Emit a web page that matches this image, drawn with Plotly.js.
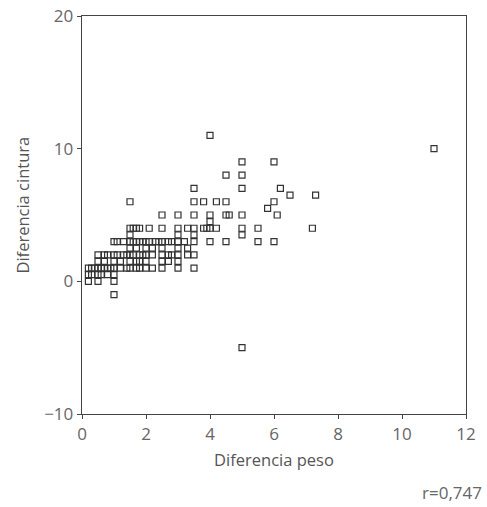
<!DOCTYPE html>
<html>
<head>
<meta charset="utf-8">
<script src="https://cdn.plot.ly/plotly-3.0.1.min.js"></script>
<style>html,body{margin:0;padding:0;background:#fff;}#chart{width:487px;height:507px;}</style>
</head>
<body>
<div id="chart"></div>
<script>
// Diferencia peso (x) and Diferencia cintura (y), grouped by y-row
const rowY0   = [0.2, 0.5, 1.0];
const rowYm1  = [1.0];
const rowY05  = [0.2, 0.3, 0.5, 0.6, 0.8, 1.0];
const rowY1   = [0.2, 0.3, 0.4, 0.5, 0.6, 0.7, 0.8, 0.9, 1.0, 1.2, 1.4, 1.5, 1.7, 1.8, 2.0, 2.2, 2.5, 3.0, 3.5];
const rowY15  = [0.5, 0.7, 1.0, 1.2, 1.5, 1.7, 1.8, 2.0, 2.5, 2.7, 3.0];
const rowY2   = [0.5, 0.7, 0.8, 1.0, 1.1, 1.3, 1.4, 1.5, 1.6, 1.8, 1.9, 2.0, 2.2, 2.5, 2.7, 2.8, 3.0, 3.3, 3.5];
const rowY25  = [1.5, 1.7, 2.0, 2.2, 2.5, 3.0, 3.3];
const rowY3   = [1.0, 1.1, 1.3, 1.5, 1.6, 1.7, 1.8, 1.9, 2.0, 2.1, 2.3, 2.4, 2.5, 2.7, 2.8, 3.0, 3.2, 3.5, 4.0, 4.5, 5.5, 6.0];
const rowY35  = [1.5, 3.0, 3.5, 5.0];
const rowY4   = [1.5, 1.6, 1.7, 1.8, 2.1, 2.5, 3.0, 3.3, 3.5, 3.8, 3.9, 4.0, 4.2, 5.0, 5.5, 7.2];
const rowY45  = [4.0];
const rowY5   = [2.5, 3.0, 3.5, 4.0, 4.5, 4.6, 5.0, 6.1];
const rowY55  = [5.8];
const rowY6   = [1.5, 3.5, 3.8, 4.2, 4.5, 6.0];
const rowY65  = [6.5, 7.3];
const rowY7   = [3.5, 5.0, 6.2];
const rowY8   = [4.5, 5.0];
const rowY9   = [5.0, 6.0];
const rowY10  = [11.0];
const rowY11  = [4.0];
const rowYm5  = [5.0];

const rows = [
  [0, rowY0], [-1, rowYm1], [0.5, rowY05], [1, rowY1], [1.5, rowY15], [2, rowY2],
  [2.5, rowY25], [3, rowY3], [3.5, rowY35], [4, rowY4], [4.5, rowY45], [5, rowY5],
  [5.5, rowY55], [6, rowY6], [6.5, rowY65], [7, rowY7], [8, rowY8], [9, rowY9],
  [10, rowY10], [11, rowY11], [-5, rowYm5]
];
const xs = [], ys = [];
rows.forEach(([yv, arr]) => arr.forEach(xv => { xs.push(xv); ys.push(yv); }));

const xTicks = [0, 2, 4, 6, 8, 10, 12];
const yTicks = [-10, 0, 10, 20];
const xTitle = 'Diferencia peso';
const yTitle = 'Diferencia cintura';
const rLabel = 'r=0,747';

const font = 'Open Sans, Liberation Sans, sans-serif';

Plotly.newPlot('chart', [{
  type: 'scatter', mode: 'markers', x: xs, y: ys,
  marker: {symbol: 'square-open', size: 6, color: '#333', line: {width: 1.2, color: '#333'}},
  hoverinfo: 'x+y', showlegend: false
}], {
  width: 487, height: 507,
  margin: {l: 82, r: 21, t: 16, b: 93},
  paper_bgcolor: '#fff', plot_bgcolor: '#fff',
  xaxis: {
    range: [0, 12], tickvals: xTicks, ticktext: xTicks.map(String),
    showgrid: false, zeroline: false,
    showline: true, linecolor: '#444', linewidth: 1.3, mirror: true,
    ticks: 'outside', ticklen: 4, tickcolor: '#444',
    tickfont: {family: font, size: 17, color: '#666'},
    title: {text: xTitle, font: {family: font, size: 16.5, color: '#555'}, standoff: 10}
  },
  yaxis: {
    range: [-10, 20], tickvals: yTicks, ticktext: yTicks.map(v => v < 0 ? '\u2212' + Math.abs(v) : String(v)),
    showgrid: false, zeroline: false,
    showline: true, linecolor: '#444', linewidth: 1.3, mirror: true,
    ticks: 'outside', ticklen: 4, tickcolor: '#444',
    tickfont: {family: font, size: 17, color: '#666'}
  },
  annotations: [{
    text: yTitle, xref: 'paper', yref: 'paper', x: -0.155, y: 0.525,
    xanchor: 'center', yanchor: 'middle', textangle: -90, showarrow: false,
    font: {family: font, size: 16.5, color: '#555'}
  }, {
    text: rLabel, xref: 'paper', yref: 'paper', x: 1.048, y: -0.197,
    xanchor: 'right', yanchor: 'middle', showarrow: false,
    font: {family: font, size: 17, color: '#666'}
  }]
}, {displayModeBar: false, staticPlot: true});
</script>
</body>
</html>
